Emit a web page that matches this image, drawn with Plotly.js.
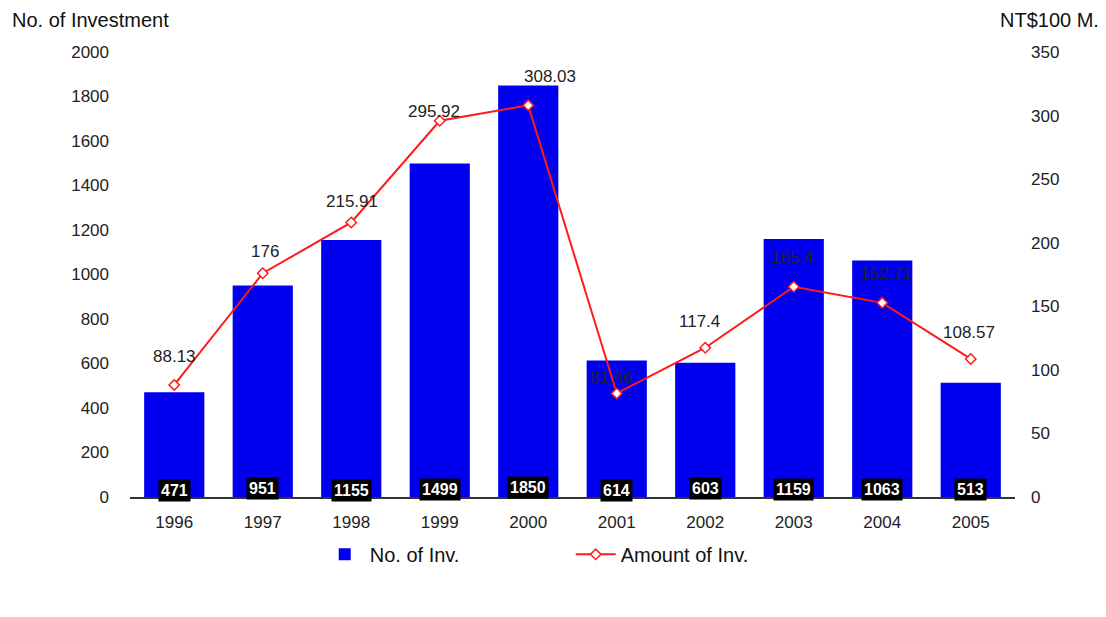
<!DOCTYPE html>
<html>
<head>
<meta charset="utf-8">
<script src="https://cdn.plot.ly/plotly-3.0.1.min.js"></script>
<style>
  html, body { margin: 0; padding: 0; background: #fff; }
  #chart { width: 1106px; height: 617px; }
</style>
</head>
<body>
<div id="chart"></div>
<script>
// Investment counts (bars, left axis) and amounts (line, right axis)
const years = [1996, 1997, 1998, 1999, 2000, 2001, 2002, 2003, 2004, 2005];
const invCount = [471, 951, 1155, 1499, 1850, 614, 603, 1159, 1063, 513];
const invAmount = [88.13, 176, 215.91, 295.92, 308.03, 81.46, 117.4, 165.4, 152.71, 108.57];
const amountLabels = ['88.13', '176', '215.91', '295.92', '308.03', '81.46', '117.4', '165.4', '152.71', '108.57'];

// Label placement offsets for the amount labels (pixels)
const amtShiftX = [0, 2, 1, -6, 22, -5, -6, -1, 4, -2];
const amtShiftY = [28, 22, 21, 9, 29, 16, 26, 29, 29, 26];
// small vertical jitter of the count boxes along the baseline
const cntShiftY = [7, 9, 7, 8, 10, 7, 9, 8, 8, 8];

const FONT = 'Liberation Sans, Arial, sans-serif';

const bars = {
  type: 'bar',
  name: 'No. of Inv.',
  x: years,
  y: invCount,
  marker: { color: '#0000ee', line: { width: 0 } },
  hoverinfo: 'x+y'
};

const line = {
  type: 'scatter',
  mode: 'lines+markers',
  name: 'Amount of Inv.',
  x: years,
  y: invAmount,
  yaxis: 'y2',
  line: { color: '#ff1a1a', width: 2 },
  marker: { symbol: 'diamond', size: 8, color: '#ffffff', line: { color: '#ff1a1a', width: 1.5 } }
};

const annotations = [];
years.forEach((yr, i) => {
  // count labels: white on black, sitting on the baseline
  annotations.push({
    x: yr, y: 0, xref: 'x', yref: 'y',
    text: '<b>' + invCount[i] + '</b>',
    showarrow: false,
    yanchor: 'middle', yshift: cntShiftY[i],
    bgcolor: '#000000',
    borderpad: 2,
    font: { family: FONT, size: 16, color: '#ffffff' }
  });
  // amount labels above the line points
  annotations.push({
    x: yr, y: invAmount[i], xref: 'x', yref: 'y2',
    text: amountLabels[i],
    showarrow: false,
    yanchor: 'middle',
    xshift: amtShiftX[i], yshift: amtShiftY[i],
    font: { family: FONT, size: 17, color: '#222222' }
  });
});

// axis captions
annotations.push({
  xref: 'paper', yref: 'paper', x: -0.136, y: 1.0, yshift: 32,
  xanchor: 'left', yanchor: 'middle', showarrow: false,
  text: 'No. of Investment',
  font: { family: FONT, size: 20, color: '#111111' }
});
annotations.push({
  xref: 'paper', yref: 'paper', x: 1.0, y: 1.0, xshift: 86, yshift: 32,
  xanchor: 'right', yanchor: 'middle', showarrow: false,
  text: 'NT$100 M.',
  font: { family: FONT, size: 20, color: '#111111' }
});

const layout = {
  width: 1106,
  height: 617,
  margin: { l: 130, r: 91, t: 52, b: 120 },
  paper_bgcolor: '#ffffff',
  plot_bgcolor: '#ffffff',
  font: { family: FONT, size: 16, color: '#222222' },
  bargap: 0.32,
  showlegend: true,
  legend: {
    orientation: 'h',
    x: 0.498, xanchor: 'center',
    y: -0.085, yanchor: 'top',
    font: { family: FONT, size: 20, color: '#111111' },
    entrywidth: 196,
    itemwidth: 40
  },
  xaxis: {
    type: 'linear',
    range: [1995.5, 2005.5],
    tickmode: 'array',
    tickvals: years,
    ticktext: years.map(String),
    showgrid: false,
    zeroline: false,
    showline: true,
    linecolor: '#333333',
    linewidth: 1.5,
    ticks: '',
    tickfont: { family: FONT, size: 17, color: '#222222' },
    ticklabelstandoff: 9
  },
  yaxis: {
    range: [0, 2000],
    dtick: 200,
    showgrid: false,
    zeroline: false,
    showline: false,
    ticks: '',
    tickfont: { family: FONT, size: 17, color: '#222222' },
    ticklabelstandoff: 20
  },
  yaxis2: {
    overlaying: 'y',
    side: 'right',
    range: [0, 350],
    dtick: 50,
    showgrid: false,
    zeroline: false,
    showline: false,
    ticks: '',
    tickfont: { family: FONT, size: 17, color: '#222222' },
    ticklabelstandoff: 15
  },
  annotations: annotations
};

Plotly.newPlot('chart', [bars, line], layout, { displayModeBar: false, staticPlot: true });
</script>
</body>
</html>
